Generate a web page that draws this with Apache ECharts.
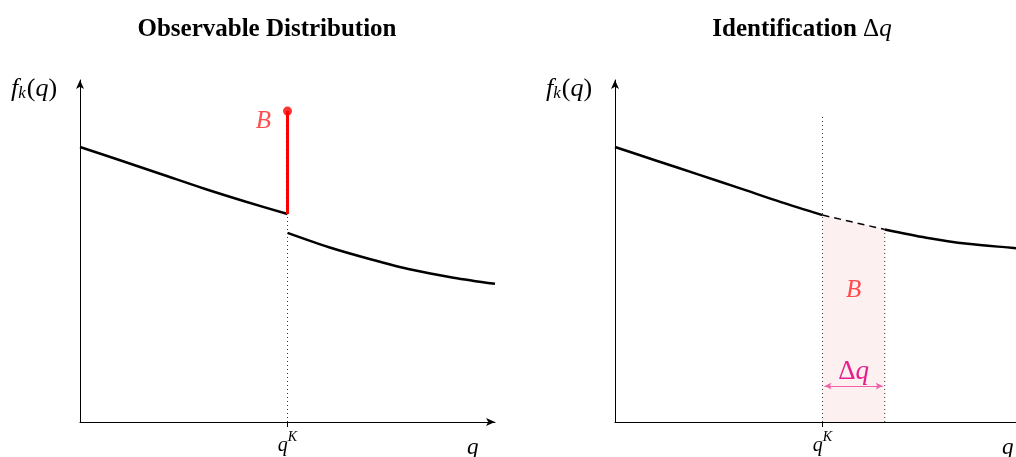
<!DOCTYPE html>
<html><head><meta charset="utf-8">
<script src="https://cdn.jsdelivr.net/npm/echarts@6/dist/echarts.min.js"></script>
<style>html,body{margin:0;padding:0;background:#fff}#c{width:1016px;height:457px}</style>
</head><body><div id="c"></div>
<script>
// ---- data (x in units of q, qK = 1; y = density) ----
const qK = 1;
const dq = 0.3;
const leftBefore = [[0,0.804],[0.2,0.764],[0.4,0.723],[0.6,0.682],[0.8,0.644],[1,0.608]];
const leftAfter  = [[1,0.553],[1.2,0.511],[1.4,0.476],[1.6,0.445],[1.8,0.422],[2,0.404]];
const bunchTop   = 0.909;
const rightBefore = [[0,0.804],[0.2,0.764],[0.4,0.724],[0.6,0.684],[0.8,0.643],[1,0.605]];
const rightGap    = [[1,0.605],[1.15,0.584],[1.3,0.563]];
const rightAfter  = [[1.3,0.563],[1.5,0.539],[1.7,0.521],[1.9,0.510],[2,0.505]];
const rightDotTop = 0.898;
const arrowY = 0.105;
const bLabelRight = [1.15, 0.386];

const serif = '"Liberation Serif","DejaVu Serif",serif';
const chart = echarts.init(document.getElementById('c'));

function xAx(gi){
  return {gridIndex:gi,type:'value',min:0,max:2,interval:1,
    axisLine:{show:true,onZero:false,symbol:['none','arrow'],symbolSize:[6,9],lineStyle:{color:'#000',width:1}},
    axisTick:{show:true,customValues:[qK],length:5,inside:false,lineStyle:{color:'#000'}},
    axisLabel:{show:true,customValues:[qK],margin:8,formatter:()=>'{q|q}{s|K}',
      rich:{q:{fontFamily:serif,fontStyle:'italic',fontSize:20,color:'#000',verticalAlign:'bottom'},
            s:{fontFamily:serif,fontStyle:'italic',fontSize:14,color:'#000',verticalAlign:'top',padding:[0,0,12,0]}}},
    splitLine:{show:false},
    name:'q',nameLocation:'end',nameGap:-28,
    nameTextStyle:{fontFamily:serif,fontStyle:'italic',fontSize:23,color:'#000',verticalAlign:'top',padding:[14,0,0,0]}
  };
}
function yAx(gi){
  return {gridIndex:gi,type:'value',min:0,max:1,
    axisLine:{show:true,symbol:['none','arrow'],symbolSize:[6,9],lineStyle:{color:'#000',width:1}},
    axisTick:{show:false},axisLabel:{show:false},splitLine:{show:false}};
}
const curve = (name,data,gi,extra)=>Object.assign({type:'line',name,data,xAxisIndex:gi,yAxisIndex:gi,
  smooth:0.3,showSymbol:false,symbol:'none',lineStyle:{color:'#000',width:2.5},z:5,silent:true},extra||{});
const dotted = (data,gi)=>({type:'line',data,xAxisIndex:gi,yAxisIndex:gi,symbol:'none',
  lineStyle:{color:'#333',width:1,type:[1,3]},z:8,silent:true});

const fkStyle = ()=>({text:'{f|f}{k|k}{p|(}{q|q}{p|)}',rich:{
  f:{fontFamily:serif,fontStyle:'italic',fontSize:26,color:'#000',verticalAlign:'bottom'},
  k:{fontFamily:serif,fontStyle:'italic',fontSize:17,color:'#000',verticalAlign:'bottom',padding:[0,1,0,0]},
  p:{fontFamily:serif,fontSize:26,color:'#000',verticalAlign:'bottom'},
  q:{fontFamily:serif,fontStyle:'italic',fontSize:26,color:'#000',verticalAlign:'bottom'}}});

chart.setOption({
  animation:false,
  backgroundColor:'#fff',
  title:[
    {text:'Observable Distribution',left:262,top:12,textAlign:'center',
     textStyle:{fontFamily:serif,fontWeight:'bold',fontSize:25,color:'#000'}},
    {text:'{b|Identification }{d|Δ}{q|q}',left:797,top:12,textAlign:'center',
     textStyle:{rich:{b:{fontFamily:serif,fontWeight:'bold',fontSize:25,color:'#000'},
       d:{fontFamily:serif,fontWeight:'normal',fontSize:25,color:'#000'},
       q:{fontFamily:serif,fontWeight:'normal',fontStyle:'italic',fontSize:25,color:'#000'}}}}
  ],
  graphic:[
    {type:'text',left:11,top:76,style:fkStyle()},
    {type:'text',left:546,top:76,style:fkStyle()}
  ],
  grid:[{left:80,top:80,width:415,height:342,outerBoundsMode:'none'},
        {left:615,top:80,width:415,height:342,outerBoundsMode:'none'}],
  xAxis:[xAx(0),xAx(1)],
  yAxis:[yAx(0),yAx(1)],
  series:[
    curve('lb',leftBefore,0),
    curve('la',leftAfter,0),
    {type:'line',data:[[qK,leftBefore[leftBefore.length-1][1]],[qK,bunchTop]],xAxisIndex:0,yAxisIndex:0,
     symbol:'none',lineStyle:{color:'#f00',width:3},z:6,silent:true},
    {type:'scatter',data:[[qK,bunchTop]],xAxisIndex:0,yAxisIndex:0,symbol:'circle',symbolSize:9,
     itemStyle:{color:'#f00'},z:7,silent:true,
     label:{show:true,position:'left',distance:12,offset:[0,10],formatter:'B',
       fontFamily:serif,fontStyle:'italic',fontSize:25,color:'#f22'}},
    dotted([[qK,0],[qK,bunchTop]],0),
    curve('rb',rightBefore,1),
    curve('ra',rightAfter,1),
    curve('rg',rightGap,1,{smooth:false,lineStyle:{color:'#000',width:1.5,type:[7,5]},
      areaStyle:{color:'#fcf0f0',opacity:1},z:4}),
    dotted([[qK,0],[qK,rightDotTop]],1),
    dotted([[qK+dq,0],[qK+dq,rightGap[rightGap.length-1][1]]],1),
    {type:'scatter',data:[bLabelRight],xAxisIndex:1,yAxisIndex:1,symbolSize:1,itemStyle:{color:'rgba(0,0,0,0)'},
     silent:true,z:12,label:{show:true,position:'inside',formatter:'B',
       fontFamily:serif,fontStyle:'italic',fontSize:25,color:'#f22'}},
    {type:'line',data:[],xAxisIndex:1,yAxisIndex:1,silent:true,z:12,
     markLine:{silent:true,symbol:['arrow','arrow'],symbolSize:[5,7],
       lineStyle:{color:'#f060a8',width:1,type:'solid'},
       label:{show:true,position:'middle',distance:1,formatter:'{d|Δ}{q|q}',
         rich:{d:{fontFamily:serif,fontSize:27,color:'#e61e8c'},q:{fontFamily:serif,fontStyle:'italic',fontSize:27,color:'#e61e8c'}}},
       data:[[{coord:[qK+0.01,arrowY]},{coord:[qK+dq-0.01,arrowY]}]]}}
  ]
});
</script></body></html>
